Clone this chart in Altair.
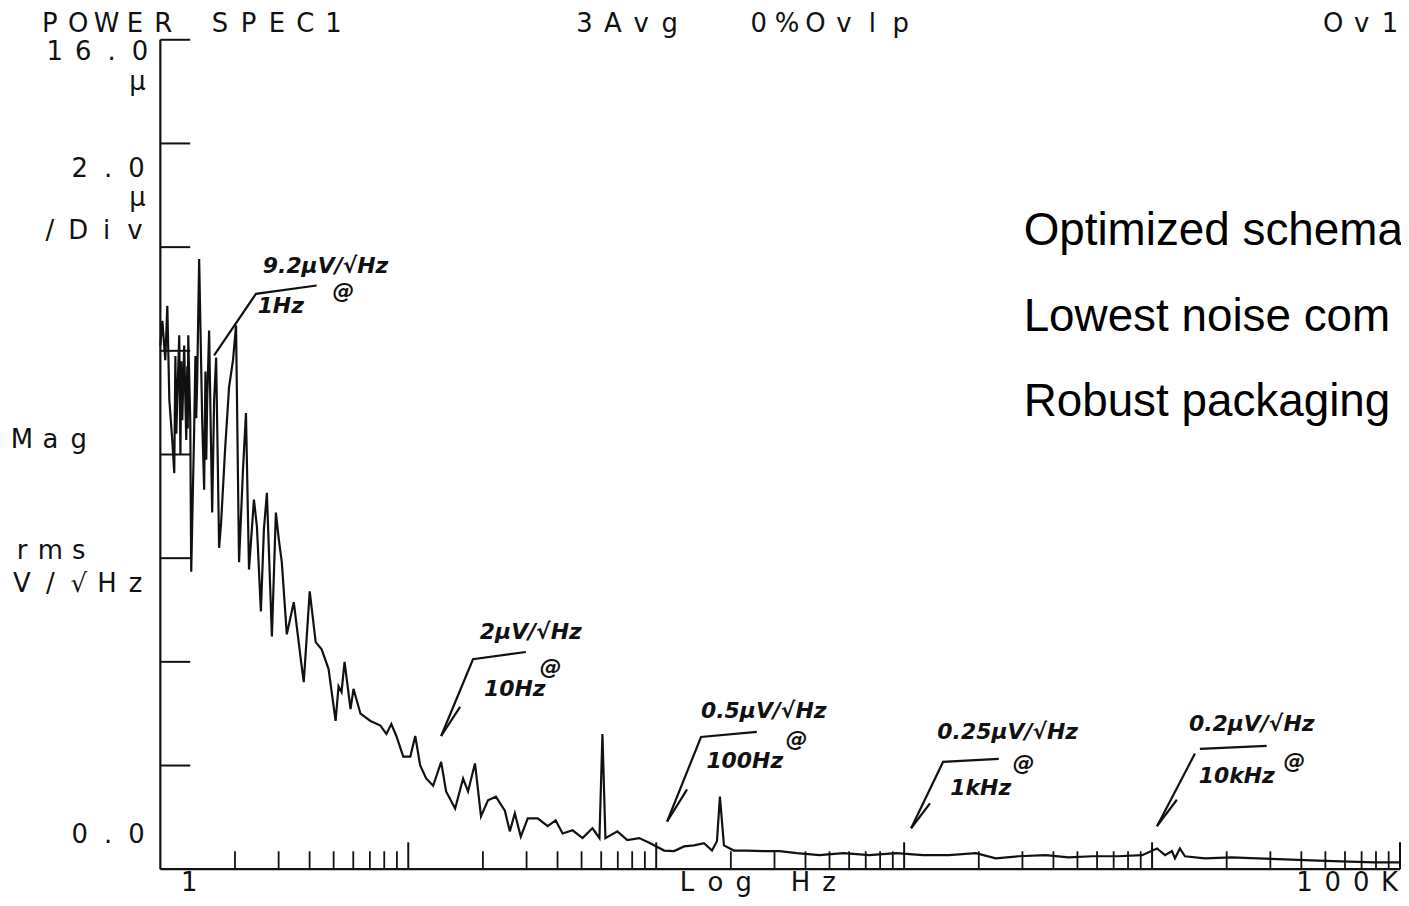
import altair as alt
import pandas as pd

# ---------------- data: spectrum trace (Hz, µV/√Hz) ----------------
freq = [1.00, 1.019, 1.047, 1.067, 1.087, 1.117, 1.138, 1.150, 1.160, 1.170,
        1.192, 1.205, 1.215, 1.226, 1.248, 1.272, 1.284, 1.290, 1.296, 1.320,
        1.332, 1.369, 1.385, 1.395, 1.408, 1.434, 1.475, 1.502, 1.520, 1.532,
        1.545, 1.573, 1.618, 1.648, 1.679, 1.726, 1.758, 1.824, 1.893, 1.964,
        2.020, 2.077, 2.154, 2.215, 2.278, 2.385, 2.452, 2.544, 2.616, 2.690,
        2.818, 2.924, 3.006, 3.090, 3.236, 3.453, 3.685, 3.788, 4.004, 4.232,
        4.473, 4.771, 5.091, 5.234, 5.381, 5.534, 5.849, 6.013, 6.415, 7.037,
        7.720, 8.159, 8.545, 8.951, 9.548, 10.19, 10.67, 11.17, 11.81, 12.60,
        13.57, 14.21, 15.45, 16.64, 17.42, 18.58, 19.65, 20.96, 22.57, 24.52,
        25.68, 26.90, 28.43, 30.34, 33.28, 36.49, 39.30, 41.94, 46.00, 50.45,
        55.34, 59.03, 60.69, 62.40, 69.72, 76.45, 85.45, 94.6, 107.7, 118.1,
        129.5, 142.1, 155.9, 167.9, 175.8, 180.7, 187.6, 205.7, 232.0, 271.5,
        314.8, 368.5, 455.7, 568.9, 723.4, 929, 1192, 1516, 1946, 2342,
        2896, 3718, 4599, 5741, 7304, 9117, 10470, 11280, 12030, 12370,
        12950, 13570, 16330, 20960, 26660, 34210, 43910, 57970, 78640, 100000]
mag = [10.10, 10.58, 9.82, 10.87, 9.05, 8.28, 7.64, 9.90, 8.40, 9.05,
       10.30, 8.00, 9.80, 8.66, 10.10, 8.28, 9.70, 8.50, 10.30, 8.66,
       5.74, 8.47, 9.90, 8.70, 9.43, 11.77, 8.66, 7.32, 9.60, 7.90,
       9.05, 10.39, 6.88, 9.05, 9.87, 6.20, 6.68, 8.09, 9.30, 9.82,
       10.49, 5.92, 7.70, 8.80, 5.78, 7.13, 6.61, 4.97, 6.55, 7.26,
       4.49, 6.88, 6.36, 5.92, 4.53, 5.15, 4.05, 3.61, 5.36, 4.38,
       4.24, 3.86, 2.86, 3.53, 3.42, 4.00, 3.09, 3.48, 3.00, 2.86,
       2.77, 2.61, 2.80, 2.57, 2.17, 2.17, 2.57, 2.00, 1.75, 1.61,
       2.07, 1.50, 1.17, 1.75, 1.50, 2.04, 1.02, 1.33, 1.40, 1.13,
       0.73, 1.08, 0.63, 0.98, 0.98, 0.83, 0.94, 0.69, 0.75, 0.60,
       0.79, 0.60, 2.61, 0.60, 0.73, 0.56, 0.60, 0.50, 0.36, 0.35,
       0.44, 0.46, 0.50, 0.36, 0.54, 1.40, 0.46, 0.36, 0.36, 0.35,
       0.35, 0.31, 0.27, 0.31, 0.27, 0.31, 0.27, 0.27, 0.31, 0.21,
       0.25, 0.27, 0.23, 0.25, 0.25, 0.27, 0.40, 0.27, 0.35, 0.21,
       0.40, 0.25, 0.21, 0.23, 0.21, 0.19, 0.17, 0.15, 0.13, 0.13]

# axis ticks
y_ticks = [2, 4, 6, 8, 10, 12, 14, 16]
decade_ticks = [10, 100, 1000, 10000, 100000]
minor_ticks = [m * d for d in [1, 10, 100, 1000, 10000] for m in [2, 3, 4, 5, 6, 7, 8, 9]]

# handwritten annotations
ann_text = ["9.2μV/√Hz", "1Hz", "@",
            "2μV/√Hz", "10Hz", "@",
            "0.5μV/√Hz", "100Hz", "@",
            "0.25μV/√Hz", "1kHz", "@",
            "0.2μV/√Hz", "10kHz", "@"]
ann_freq = [4.64, 3.06, 5.48,
            31.2, 26.9, 37.5,
            271.5, 227.6, 368.5,
            2617, 2037, 3034,
            25230, 21950, 37500]
ann_mag = [11.64, 10.87, 11.16,
           4.57, 3.48, 3.90,
           3.05, 2.09, 2.52,
           2.65, 1.56, 2.04,
           2.80, 1.79, 2.09]

ann_seg = ["a1", "a1", "a1", "a2", "a2", "a2", "h2", "h2",
           "a3", "a3", "a3", "h3", "h3", "a4", "a4", "a4", "h4", "h4",
           "a5", "a5", "f5", "f5", "h5", "h5"]
ann_seg_f = [1.648, 2.43, 4.27, 13.57, 18.24, 29.8, 13.57, 16.18,
             110.7, 151.6, 254.5, 110.7, 133.2, 1067, 1435, 2408, 1067, 1271,
             10470, 14890, 15590, 28970, 10470, 12590]
ann_seg_m = [9.91, 11.10, 11.26, 2.57, 4.05, 4.19, 2.57, 3.13,
             0.92, 2.55, 2.65, 0.92, 1.54, 0.79, 2.07, 2.13, 0.79, 1.27,
             0.83, 2.23, 2.32, 2.38, 0.83, 1.34]

# instrument header / side labels (text, first-char centre x, centre y on page)
header_text = ["POWER SPEC1", "3Avg", "0%Ovlp", "Ov1", "16.0", "μ", "2.0", "μ",
               "/Div", "Mag", "rms", "V/√Hz", "0.0", "1", "Log Hz", "100K"]
header_x = [50, 587, 762, 1339, 55, 138, 80, 138, 50, 22, 22, 22, 80, 190, 690, 1310]
header_y = [22, 22, 22, 22, 50, 80, 168, 197, 230, 440, 551, 585, 837, 885, 885, 885]

side_text = ["Optimized schema", "Lowest noise com", "Robust packaging"]
side_y = [230, 316, 402]

# ---------------- layout ----------------
W, H = 1245, 833
LEFT, TOP = 161, 38          # page position of plot origin
PITCH = 28.5

xs = alt.Scale(type="log", domain=[1, 100000])
ys = alt.Scale(domain=[0, 16])
X = alt.X("freq:Q", scale=xs, axis=None)
Y = alt.Y("mag:Q", scale=ys, axis=None)
INK = "#111111"

trace_df = pd.DataFrame({"freq": freq, "mag": mag, "i": range(len(freq))})
trace = alt.Chart(trace_df).mark_line(color=INK, strokeWidth=2.2).encode(
    x=X, y=Y, order="i:Q")

left_axis = alt.Chart(pd.DataFrame({"freq": [1]})).mark_rule(
    color=INK, strokeWidth=2.2).encode(x=X, y=alt.value(0), y2=alt.value(H))
bottom_axis = alt.Chart(pd.DataFrame({"mag": [0]})).mark_rule(
    color=INK, strokeWidth=2.2).encode(y=Y, x=alt.value(0), x2=alt.value(W))

yt = alt.Chart(pd.DataFrame({"mag": y_ticks})).mark_rule(
    color=INK, strokeWidth=2).encode(y=Y, x=alt.value(0), x2=alt.value(30))
xt_minor = alt.Chart(pd.DataFrame({"freq": minor_ticks})).mark_rule(
    color=INK, strokeWidth=1.8).encode(x=X, y=alt.value(H), y2=alt.value(H - 18))
xt_major = alt.Chart(pd.DataFrame({"freq": decade_ticks})).mark_rule(
    color=INK, strokeWidth=2).encode(x=X, y=alt.value(H), y2=alt.value(H - 27))

ann_df = pd.DataFrame({"freq": ann_freq, "mag": ann_mag, "t": ann_text})
ann = alt.Chart(ann_df).mark_text(
    font="DejaVu Sans", fontStyle="italic", fontWeight="bold", fontSize=22,
    color=INK, align="center", baseline="middle").encode(x=X, y=Y, text="t:N")

seg_df = pd.DataFrame({"freq": ann_seg_f, "mag": ann_seg_m, "seg": ann_seg,
                       "o": range(len(ann_seg))})
segs = alt.Chart(seg_df).mark_line(color=INK, strokeWidth=2.2).encode(
    x=X, y=Y, detail="seg:N", order="o:Q")

rows = []
for txt, x0, y0 in zip(header_text, header_x, header_y):
    for i, ch in enumerate(txt):
        if ch != " ":
            rows.append({"ch": ch, "px": x0 + i * PITCH - LEFT, "py": y0 - TOP})
hdr = alt.Chart(pd.DataFrame(rows)).mark_text(
    font="DejaVu Sans", fontSize=26, color=INK, align="center",
    baseline="middle").encode(
    x=alt.X("px:Q", scale=None, axis=None),
    y=alt.Y("py:Q", scale=None, axis=None),
    text="ch:N")

side_df = pd.DataFrame({"t": side_text, "px": [1028 - LEFT] * 3,
                        "py": [v - TOP for v in side_y]})
side = alt.Chart(side_df).mark_text(
    font="Liberation Sans", fontSize=46, color="#000000", align="left",
    baseline="middle").encode(
    x=alt.X("px:Q", scale=None, axis=None),
    y=alt.Y("py:Q", scale=None, axis=None),
    text="t:N")

chart = alt.layer(
    left_axis, bottom_axis, yt, xt_minor, xt_major, trace, segs, ann, hdr, side
).properties(
    width=W, height=H,
    padding={"left": LEFT - 8, "top": TOP - 8, "right": 1, "bottom": 27},
    autosize=alt.AutoSizeParams(type="none"),
    background="white",
).configure_view(stroke=None)

chart.save("out.html", embed_options={"renderer": "svg", "actions": False})
